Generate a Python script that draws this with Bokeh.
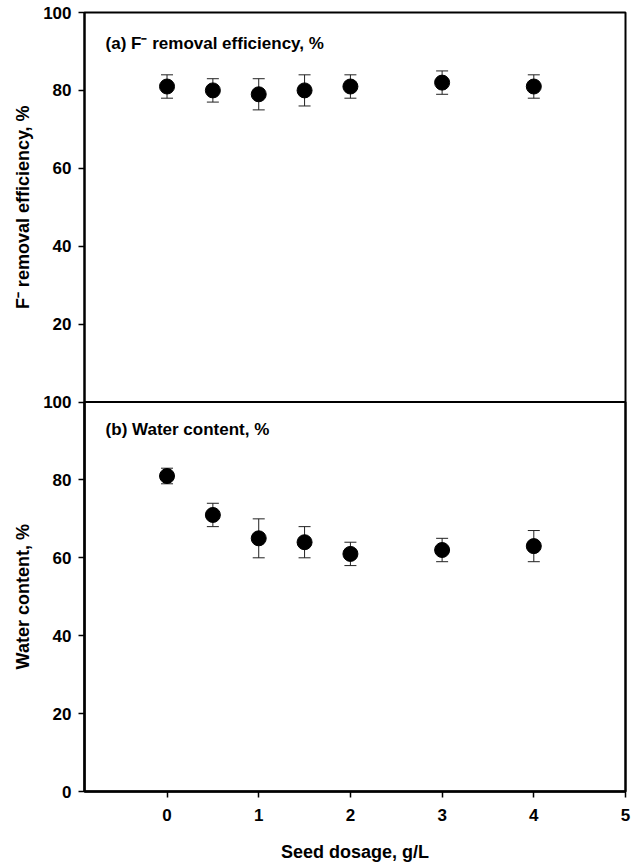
import math
from bokeh.plotting import figure
from bokeh.models import (ColumnDataSource, Range1d, Whisker, TeeHead, Label,
                          FixedTicker, LinearAxis, BoxAnnotation)
from bokeh.embed import file_html
from bokeh.resources import INLINE

# Data
dosage = [0, 0.5, 1, 1.5, 2, 3, 4]
removal_eff = [81, 80, 79, 80, 81, 82, 81]
removal_err = [3, 3, 4, 4, 3, 3, 3]
water_content = [81, 71, 65, 64, 61, 62, 63]
water_err = [2, 3, 5, 4, 3, 3, 4]
x_ticks = [0, 1, 2, 3, 4, 5]
y_ticks = [0, 20, 40, 60, 80, 100]
title_a = "(a) F\u207b removal efficiency, %"
title_b = "(b) Water content, %"
ylabel_a = "F\u207b removal efficiency, %"
ylabel_b = "Water content, %"
xlabel = "Seed dosage, g/L"

FONT = "Liberation Sans"
W, H = 638, 865

# plot box geometry (pixels): x 84..625, y 12..791
X0, X1 = -0.9, 5.0
BOX_L, BOX_R, BOX_T, BOX_B = 84, 625, 12, 791
ux = (BOX_R - BOX_L) / (X1 - X0)
uy = (BOX_B - BOX_T) / 200.0
x_lo, x_hi = X0 - BOX_L / ux, X1 + (W - BOX_R) / ux
y_lo, y_hi = 0 - (H - BOX_B) / uy, 200 + BOX_T / uy

src_a = ColumnDataSource(dict(
    x=dosage, y=removal_eff,
    lo=[v - e for v, e in zip(removal_eff, removal_err)],
    hi=[v + e for v, e in zip(removal_eff, removal_err)]))
src_b = ColumnDataSource(dict(
    x=dosage, y=water_content,
    lo=[v - e for v, e in zip(water_content, water_err)],
    hi=[v + e for v, e in zip(water_content, water_err)]))

p = figure(frame_width=W, frame_height=H,
           x_range=Range1d(x_lo, x_hi), y_range=Range1d(y_lo, y_hi),
           output_backend="svg", toolbar_location=None,
           min_border=0, background_fill_color="white",
           border_fill_color="white", x_axis_type=None, y_axis_type=None)
p.extra_y_ranges = {"top": Range1d(y_lo - 100, y_hi - 100)}
p.grid.visible = False
p.outline_line_color = None

# axes
xa = LinearAxis(ticker=FixedTicker(ticks=x_ticks), fixed_location=0,
                bounds=(X0, X1))
all_y = y_ticks + [100 + t for t in y_ticks[1:]]
ya = LinearAxis(ticker=FixedTicker(ticks=all_y), fixed_location=X0,
                bounds=(0, 200),
                major_label_overrides={100 + t: str(t) for t in y_ticks[1:]})
for ax in (xa, ya):
    ax.axis_line_width = 2
    ax.axis_line_color = "black"
    ax.major_tick_line_width = 1.5
    ax.major_tick_line_color = "black"
    ax.major_tick_in = 0
    ax.major_tick_out = 6
    ax.minor_tick_line_color = None
    ax.major_label_text_font = FONT
    ax.major_label_text_font_style = "bold"
    ax.major_label_text_font_size = "17px"
    ax.major_label_text_color = "black"
xa.major_label_standoff = 11
ya.major_label_standoff = 7
p.add_layout(xa, "below")
p.add_layout(ya, "left")

# plot box and divider between panels
for top in (200, 100):
    p.add_layout(BoxAnnotation(left=X0, right=X1, bottom=0, top=top,
                               fill_alpha=0, line_color="black",
                               line_alpha=1.0, line_width=2))

# error bars
for src, rn in ((src_a, "top"), (src_b, "default")):
    w = Whisker(source=src, base="x", upper="hi", lower="lo",
                line_color="#222222", line_width=1,
                upper_head=TeeHead(size=12, line_color="#222222", line_width=1),
                lower_head=TeeHead(size=12, line_color="#222222", line_width=1),
                y_range_name=rn)
    p.add_layout(w)

p.scatter("x", "y", source=src_a, y_range_name="top", size=15,
          fill_color="black", line_color="black")
p.scatter("x", "y", source=src_b, size=15,
          fill_color="black", line_color="black")

# panel titles
p.add_layout(Label(x=-0.67, y=92, y_range_name="top", text=title_a,
                   text_font=FONT, text_font_style="bold",
                   text_font_size="17px", text_baseline="middle",
                   text_color="black"))
p.add_layout(Label(x=-0.67, y=93, text=title_b,
                   text_font=FONT, text_font_style="bold",
                   text_font_size="17px", text_baseline="middle",
                   text_color="black"))

# axis labels
lbl = dict(text_font=FONT, text_font_style="bold", text_font_size="18px",
           text_color="black", text_align="center", text_baseline="middle")
p.add_layout(Label(x=22, x_units="screen", y=150, text=ylabel_a,
                   angle=math.pi / 2, **lbl))
p.add_layout(Label(x=22, x_units="screen", y=50, text=ylabel_b,
                   angle=math.pi / 2, **lbl))
p.add_layout(Label(x=(X0 + X1) / 2, y=14, y_units="screen", text=xlabel,
                   **lbl))

open("out.html", "w").write(file_html(p, INLINE))
